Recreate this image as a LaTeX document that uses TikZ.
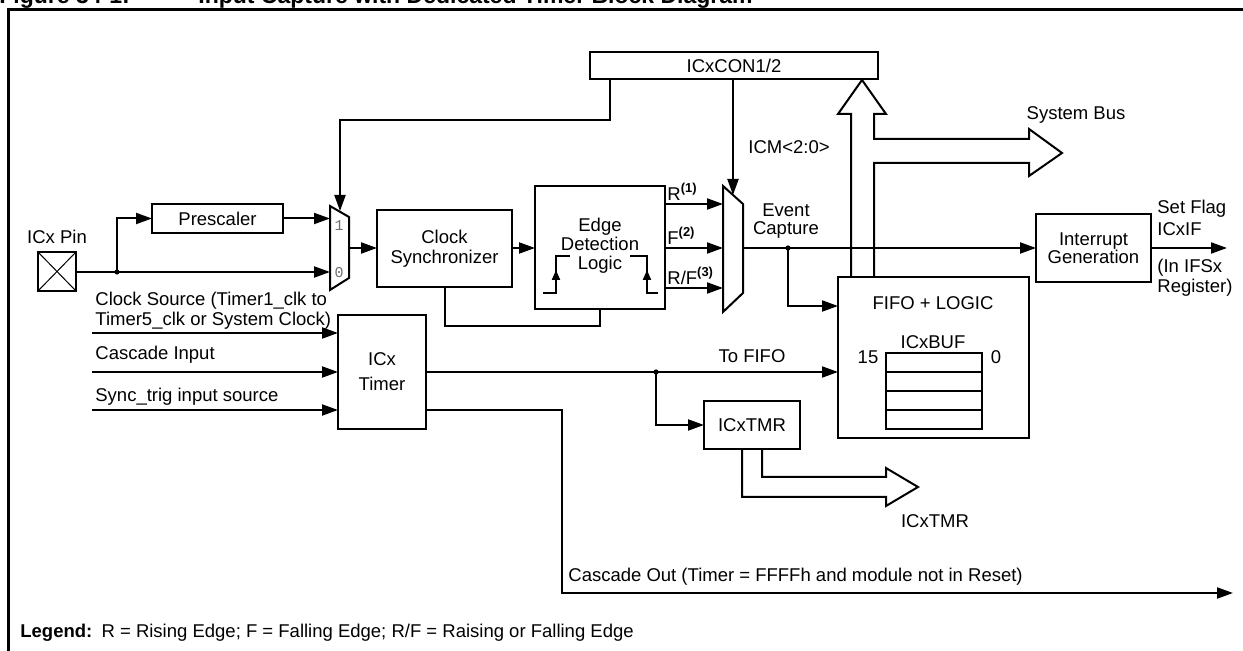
\documentclass[tikz,border=0pt]{standalone}
\usepackage{fontspec}
\setmainfont{Liberation Sans}
\newfontfamily\monofont{Liberation Mono}
\usetikzlibrary{arrows.meta}
\definecolor{muxgray}{RGB}{110,110,110}
\tikzset{
  box/.style={draw, line width=1pt, inner sep=0pt, outer sep=0pt, align=center},
  wire/.style={line width=1pt},
  arr/.style={wire, -{Triangle[length=8pt,width=5.5pt]}},
  smallarr/.style={wire, -{Triangle[length=5pt,width=4pt]}},
  bus/.style={line width=1pt, line join=miter},
  lbl/.style={inner sep=0pt, align=left},
  muxnum/.style={font=\monofont\fontsize{7.5}{8}\selectfont, text=muxgray, inner sep=0pt},
}

\begin{document}
\begin{tikzpicture}[x=0.5pt, y=-0.5pt, font=\fontsize{9.25}{10}\selectfont]
    \useasboundingbox (0,0) rectangle (1243,651);
    \clip (0,0) rectangle (1243,651);

    % Titulo (cortado arriba)
    \node[anchor=base west, inner sep=0pt, font=\bfseries\fontsize{11.5}{12}\selectfont] (fig) at (-1,4) {Figure 34-1:};
    \node[anchor=base west, inner sep=0pt, font=\bfseries\fontsize{11.5}{12}\selectfont] (title) at (198,4) {Input Capture with Dedicated Timer Block Diagram};

    % Marco
    \draw[line width=1.5pt] (8,700) -- (8,10) -- (1300,10);

    % Bloques
    \node[box, minimum width=144pt, minimum height=13.5pt] (con) at (734,65.5) {ICxCON1/2};
    \node[box, minimum width=65.5pt, minimum height=14.5pt] (presc) at (217.5,218.5) {Prescaler};
    \node[box, minimum width=19pt, minimum height=19.5pt] (pin) at (57,271.5) {};
    \node[box, minimum width=67.5pt, minimum height=38.5pt] (sync) at (444.5,248.5) {Clock\\Synchronizer};
    \node[box, minimum width=65pt, minimum height=61.5pt] (edge) at (600,247.5) {};
    \node[box, minimum width=57.5pt, minimum height=34pt] (intgen) at (1093.5,248) {Interrupt\\[-1pt]Generation};
    \node[box, minimum width=95.5pt, minimum height=80.5pt] (fifo) at (933.5,357.5) {};
    \node[box, minimum width=44pt, minimum height=57pt] (timer) at (382,372) {ICx\\[2.5pt]Timer};
    \node[box, minimum width=48pt, minimum height=24pt] (tmr) at (752,425) {ICxTMR};

    % Pin de entrada
    \draw[line width=0.5pt] (pin.north west) -- (pin.south east) (pin.south west) -- (pin.north east);
    \node (pinlbl) at (57,237) {ICx Pin};

    % Multiplexores
    \draw[wire] (330,206) -- (349,217) -- (349,278) -- (330,290) -- cycle;
    \coordinate (muxAin1) at (330,218);
    \coordinate (muxAin0) at (330,272);
    \coordinate (muxAout) at (349,248);
    \coordinate (muxAsel) at (340,211);
    \node[muxnum] at (339,226) {1};
    \node[muxnum] at (339,273) {0};

    \draw[wire] (723,186) -- (743,204) -- (743,293) -- (723,312) -- cycle;
    \coordinate (muxBr) at (723,204);
    \coordinate (muxBf) at (723,248);
    \coordinate (muxBrf) at (723,288);
    \coordinate (muxBout) at (743,248);
    \coordinate (muxBsel) at (733,195);

    % Camino del pin
    \coordinate (pinSplit) at (117,272);
    \draw[arr] (pin.east |- muxAin0) -- (muxAin0);
    \draw[arr] (pinSplit) |- (presc.west);
    \fill (pinSplit) circle[radius=1.3pt];
    \draw[arr] (presc.east) -- (presc.east -| muxAin1);
    \draw[arr] (muxAout) -- (sync.west |- muxAout);
    \draw[arr] (sync.east |- muxAout) -- (edge.west |- muxAout);
    \coordinate (syncLoop) at (520,326);
    \draw[wire] (sync.south) |- (syncLoop) -| (edge.south);

    % Control desde ICxCON1/2
    \draw[arr] (con.south west) ++(20,0) -- ++(0,41) -| (muxAsel);
    \draw[arr] (con.south -| muxBsel) -- (muxBsel);
    \node[lbl, anchor=west] (icm) at (748,147) {ICM<2:0>};

    % Logica de flancos
    \node[align=center, inner sep=0pt, font=\fontsize{9.25}{9.5}\selectfont] (edgelbl) at (600,246) {Edge\\Detection\\Logic};
    \draw[wire] (543,293) -- (556,293) -- (556,256) -- (570,256);
    \draw[wire] (630,256) -- (647,256) -- (647,293) -- (658,293);
    \draw[smallarr] (556,284) -- (556,270);
    \draw[smallarr] (647,284) -- (647,270);
    \foreach \c/\txt/\n in {muxBr/R/1, muxBf/F/2, muxBrf/{R/F}/3} {
        \draw[arr] (edge.east |- \c) -- (\c);
        \node[lbl, anchor=south west] at ([xshift=1pt, yshift=1.5pt]edge.east |- \c) {\txt\textsuperscript{\textbf{(\n)}}};
    }

    % Captura de evento
    \coordinate (evSplit) at (788,248);
    \coordinate (fifoEv) at (838,306);
    \draw[arr] (muxBout) -- (intgen.west |- muxBout);
    \draw[arr] (evSplit) |- (fifoEv);
    \fill (evSplit) circle[radius=1.3pt];
    \node[align=center, inner sep=0pt] (evlbl) at (786,221) {Event\\[-1pt]Capture};

    % Bandera de interrupcion
    \coordinate (flagOut) at (1227,248);
    \draw[arr] (intgen.east) -- (flagOut);
    \node[lbl, anchor=west] (flaglbl) at (1157,218) {Set Flag\\[1pt]ICxIF};
    \node[lbl, anchor=west] (ifslbl) at (1157,278) {(In IFSx\\Register)};

    % FIFO
    \node (fifolbl) at (933,303) {FIFO + LOGIC};
    \node (buflbl) at (933,342) {ICxBUF};
    \foreach \i in {0,...,3} {
        \draw[wire] (886,{353+19*\i}) rectangle (982,{372+19*\i});
    }
    \node (b15) at (868,357) {15};
    \node (b0) at (996,357) {0};

    % Bus del sistema
    \draw[bus] (851,277) -- (851,114) -- (838,114) -- (862,80) -- (886,114) -- (874,114) -- (874,139)
        -- (1029,139) -- (1029,129) -- (1062,153) -- (1029,176) -- (1029,163) -- (874,163) -- (874,277);
    \node (buslbl) at (1076,115) {System Bus};

    % Entradas del timer
    \coordinate (inClk) at (92,333);
    \coordinate (inCas) at (92,372);
    \coordinate (inSync) at (92,410);
    \foreach \c in {inClk, inCas, inSync} {
        \draw[arr] (\c) -- (\c -| timer.west);
    }
    \node[lbl, anchor=west] (clklbl) at (95,311) {Clock Source (Timer1\_clk to\\Timer5\_clk or System Clock)};
    \node[lbl, anchor=west] (caslbl) at (95,355) {Cascade Input};
    \node[lbl, anchor=west] (synclbl) at (95,397) {Sync\_trig input source};

    % Hacia la FIFO
    \coordinate (tmrSplit) at (656,372);
    \draw[arr] (timer.east) -- (timer.east -| fifo.west);
    \draw[arr] (tmrSplit) |- (tmr.west);
    \fill (tmrSplit) circle[radius=1.3pt];
    \node (tofifo) at (752,356) {To FIFO};

    % Bus ICxTMR
    \draw[bus] (742,449) -- (742,497) -- (886,497) -- (886,506) -- (918,487) -- (886,468) -- (886,477) -- (762,477) -- (762,449);
    \node (tmrlbl) at (935,521) {ICxTMR};

    % Salida en cascada
    \coordinate (casBend) at (562,480);
    \coordinate (casOut) at (1233,593);
    \draw[arr] (timer.east) ++(0,38) -| (casBend) |- (casOut);
    \node[lbl, anchor=west] (caslbl2) at (568,577) {Cascade Out (Timer = FFFFh and module not in Reset)};

    % Leyenda
    \node[lbl, anchor=west] (legend) at (20,633) {\textbf{Legend:}\enspace R = Rising Edge; F = Falling Edge; R/F = Raising or Falling Edge};
\end{tikzpicture}
\end{document}
